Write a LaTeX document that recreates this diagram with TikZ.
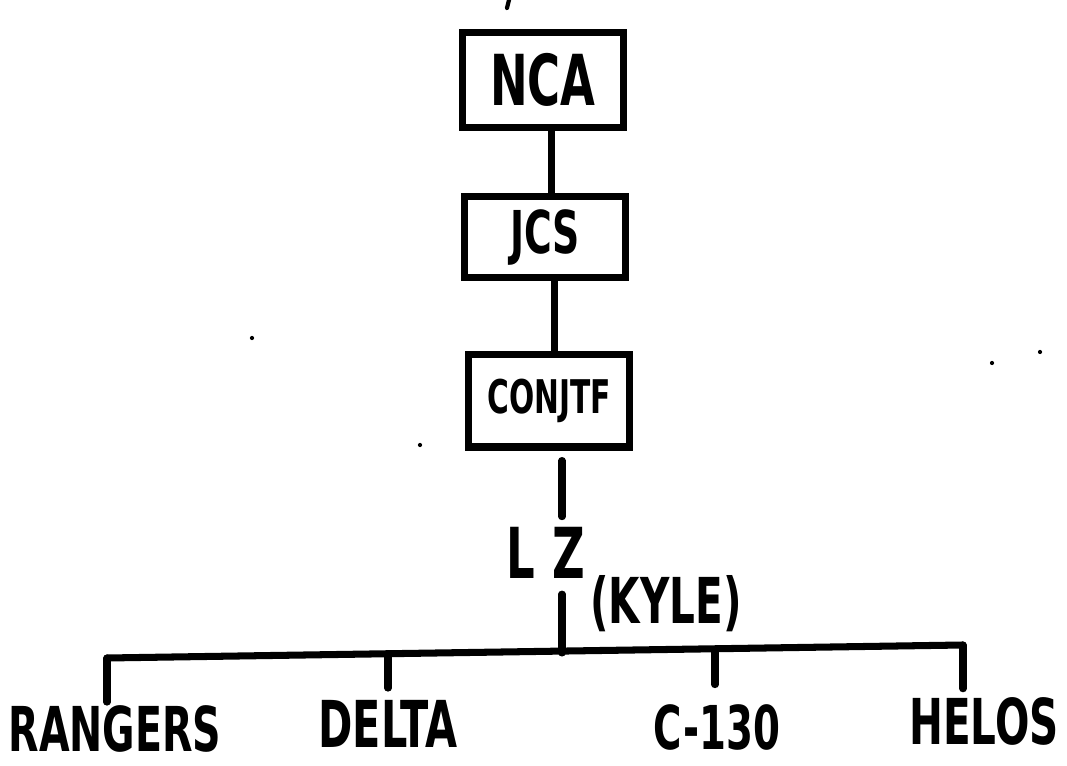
\documentclass[tikz,border=0pt]{standalone}
\usepackage{fontspec}
\newfontfamily\handfont[FakeStretch=0.64]{DejaVu Sans}
\usetikzlibrary{positioning}
\begin{document}
\begin{tikzpicture}[x=0.025cm,y=-0.025cm,line width=5pt,line cap=round,
  hand/.style={font=\handfont\bfseries\fontsize{#1}{#1}\selectfont,inner sep=0pt},
  box/.style={draw,minimum width=4cm,inner sep=0pt}]
  \useasboundingbox[fill=white] (0,0) rectangle (1067,766);
  \node[box,minimum height=2.375cm,hand=50] (nca) at (543,80) {NCA};
  \node[box,minimum height=2.025cm,hand=42] (jcs) at (545,237) {JCS};
  \node[box,minimum height=2.3cm,hand=33] (conjtf) at (549,401) {CONJTF};
  \node[hand=50] (lz) at (546,553) {L\hspace{0.25em}Z};
  \node[hand=45] (kyle) at (666,604) {(KYLE)};
  \node[hand=44] (rangers) at (115,729) {RANGERS};
  \node[hand=46] (delta) at (388,724) {DELTA};
  \node[hand=43] (c130) at (717,727) {C-130};
  \node[hand=45] (helos) at (984,721) {HELOS};
  \coordinate (stem) at (562,653);
  \coordinate (busl) at (107,658);
  \coordinate (busr) at (963,645);
  \coordinate (bdelta) at (388,654);
  \coordinate (bc130) at (715,650);
  \draw ([xshift=6pt]nca.south) -- ([xshift=6pt]nca.south |- jcs.north);
  \draw ([xshift=7pt]jcs.south) -- ([xshift=7pt]jcs.south |- conjtf.north);
  \draw[shorten <=0.25cm,shorten >=0.18cm] (conjtf.south -| stem) -- (lz.north -| stem);
  \draw[shorten <=0.3cm] (lz.south -| stem) -- (stem);
  \draw (busl) -- (busr);
  \draw (busl) -- (busl |- rangers.north);
  \draw[shorten >=0.22cm] (bdelta) -- (bdelta |- delta.north);
  \draw[shorten >=0.4cm] (bc130) -- (bc130 |- c130.north);
  \draw[shorten >=0.12cm] (busr) -- (busr |- helos.north);
  \draw[line width=3pt] (509,0) -- (507,8);
  \fill (252,338) circle (1.5pt);
  \fill (992,363) circle (1.5pt);
  \fill (1040,352) circle (1.5pt);
  \fill (420,445) circle (1.5pt);
\end{tikzpicture}
\end{document}
